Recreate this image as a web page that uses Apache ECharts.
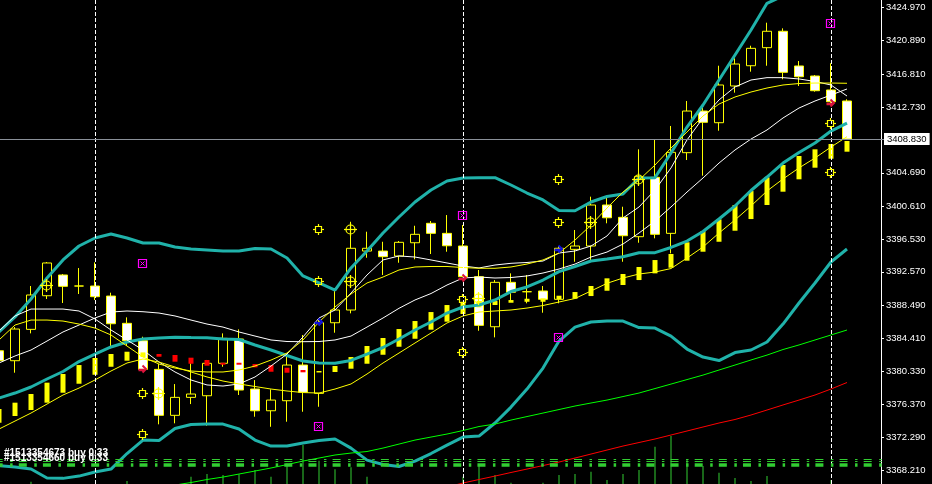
<!DOCTYPE html>
<html>
<head>
<meta charset="utf-8">
<title>XAUUSD chart</title>
<script src="https://cdn.jsdelivr.net/npm/echarts@6.0.0/dist/echarts.min.js"></script>
<style>
  html, body { margin: 0; padding: 0; background: #000; }
  #main { width: 932px; height: 484px; }
</style>
</head>
<body>
<div id="main"></div>
<script>
// candles (index 0 is the half hidden bar at the left edge)
var open = [3382.90, 3381.68, 3385.52, 3389.64, 3392.18, 3390.83, 3390.83, 3389.60, 3386.26, 3384.13,
  3380.62, 3374.99, 3377.19, 3377.39, 3381.36, 3384.34, 3378.21, 3375.55, 3376.78, 3381.15,
  3377.68, 3386.33, 3387.89, 3395.11, 3395.11, 3394.50, 3396.13, 3398.51, 3397.28, 3395.73,
  3391.97, 3385.84, 3391.28, 3390.13, 3390.22, 3389.20, 3395.32, 3395.73, 3400.75, 3399.24,
  3396.87, 3404.14, 3397.28, 3407.16, 3412.26, 3410.83, 3415.33, 3417.81, 3420.02, 3422.03,
  3417.78, 3416.55, 3414.84, 3413.49];
var close = [3381.68, 3385.56, 3389.73, 3393.65, 3390.79, 3390.83, 3389.52, 3386.21, 3384.13, 3380.62,
  3374.99, 3377.19, 3377.60, 3381.36, 3384.42, 3378.09, 3375.55, 3376.86, 3381.15, 3377.81,
  3386.33, 3387.89, 3395.45, 3395.45, 3394.42, 3396.18, 3397.16, 3397.28, 3395.76, 3391.97,
  3386.01, 3391.28, 3390.06, 3390.13, 3389.20, 3395.45, 3395.73, 3400.75, 3399.19, 3396.99,
  3404.22, 3397.16, 3407.20, 3412.26, 3410.88, 3415.45, 3418.02, 3419.94, 3422.03, 3417.00,
  3416.46, 3414.75, 3413.40, 3408.83];
var low = [3381.40, 3380.21, 3385.03, 3389.24, 3388.75, 3389.85, 3389.11, 3383.20, 3383.48, 3380.54,
  3373.89, 3374.01, 3376.37, 3373.72, 3380.94, 3377.48, 3374.82, 3373.59, 3374.21, 3375.43,
  3376.04, 3385.11, 3387.48, 3394.29, 3392.18, 3393.68, 3394.10, 3394.75, 3395.03, 3391.93,
  3385.35, 3384.54, 3388.99, 3388.71, 3387.56, 3388.71, 3393.80, 3394.01, 3398.51, 3393.80,
  3396.13, 3396.67, 3394.83, 3406.26, 3404.34, 3409.85, 3414.51, 3417.08, 3417.81, 3416.15,
  3415.33, 3414.63, 3413.24, 3408.83];
var high = [3383.36, 3385.81, 3390.83, 3393.77, 3392.30, 3393.03, 3393.73, 3390.01, 3386.99, 3384.62,
  3381.27, 3378.82, 3381.36, 3381.77, 3385.03, 3385.52, 3379.31, 3378.17, 3382.58, 3384.83,
  3386.66, 3390.34, 3398.70, 3397.48, 3396.25, 3396.34, 3398.21, 3398.79, 3399.52, 3398.30,
  3392.79, 3391.56, 3392.38, 3392.18, 3390.83, 3395.73, 3397.69, 3401.77, 3401.77, 3400.54,
  3407.57, 3408.80, 3410.43, 3413.49, 3413.08, 3417.81, 3418.72, 3420.26, 3423.08, 3422.39,
  3418.39, 3416.67, 3418.11, 3413.70];

// yellow / red block indicator (open -> close)
var histOpen = [3374.09, 3374.91, 3375.64, 3376.54, 3377.76, 3378.86, 3379.96, 3380.94, 3381.68, 3382.13,
  3382.50, 3382.38, 3382.05, 3381.77, 3381.43, 3381.43, 3381.27, 3381.15, 3380.82, 3380.54,
  3380.24, 3380.30, 3380.70, 3381.31, 3382.41, 3383.39, 3384.37, 3385.48, 3386.46, 3387.40,
  3388.22, 3388.50, 3388.78, 3388.90, 3388.90, 3389.24, 3389.27, 3389.60, 3390.25, 3390.95,
  3391.56, 3392.38, 3393.07, 3393.93, 3395.03, 3396.25, 3397.60, 3399.03, 3400.75, 3402.38,
  3403.90, 3405.32, 3406.42, 3407.28];
var histClose = [3375.76, 3376.54, 3377.60, 3378.99, 3380.05, 3381.15, 3382.01, 3382.50, 3382.78, 3382.70,
  3382.17, 3381.56, 3381.31, 3381.07, 3381.19, 3381.19, 3380.87, 3380.33, 3380.21, 3380.26,
  3380.42, 3381.03, 3382.13, 3383.48, 3384.46, 3385.56, 3386.54, 3387.64, 3388.50, 3388.90,
  3388.99, 3388.99, 3389.11, 3389.27, 3389.32, 3389.64, 3390.09, 3390.83, 3391.77, 3392.30,
  3393.16, 3394.01, 3394.75, 3396.18, 3397.56, 3399.00, 3400.75, 3402.46, 3404.14, 3405.65,
  3406.75, 3407.57, 3408.22, 3408.59];

// bollinger bands
var bbUpper = [3385.20, 3387.04, 3389.24, 3391.81, 3394.02, 3395.73, 3396.71, 3397.20, 3396.71, 3396.10,
  3396.10, 3395.61, 3395.36, 3395.24, 3395.12, 3395.12, 3395.43, 3395.36, 3394.26, 3392.06,
  3391.20, 3390.34, 3393.04, 3395.12, 3397.32, 3399.28, 3401.12, 3402.59, 3403.69, 3404.06,
  3404.10, 3404.10, 3403.20, 3402.22, 3401.37, 3400.08, 3400.05, 3401.12, 3401.79, 3402.10,
  3404.06, 3404.10, 3407.12, 3410.30, 3413.00, 3416.06, 3419.12, 3422.19, 3425.46, 3426.35,
  3426.60, 3426.60, 3426.84, 3427.09];
var bbMiddle = [3377.11, 3377.72, 3378.46, 3379.44, 3380.36, 3381.58, 3382.50, 3383.36, 3383.97, 3384.34,
  3384.46, 3384.55, 3384.52, 3384.50, 3384.34, 3384.28, 3383.61, 3382.99, 3382.32, 3381.65,
  3381.40, 3381.36, 3381.71, 3382.50, 3383.30, 3384.34, 3385.44, 3386.42, 3387.52, 3388.26,
  3388.50, 3389.12, 3390.15, 3390.71, 3391.56, 3392.60, 3393.22, 3393.89, 3394.14, 3394.42,
  3394.91, 3394.91, 3395.55, 3396.34, 3397.50, 3399.04, 3400.63, 3402.53, 3404.18, 3405.89,
  3407.18, 3408.34, 3409.81, 3410.79];
var bbLower = [3368.84, 3368.66, 3368.41, 3367.31, 3367.27, 3367.55, 3368.04, 3368.41, 3370.31, 3371.96,
  3371.90, 3373.37, 3373.86, 3373.92, 3373.92, 3373.31, 3371.96, 3371.23, 3371.23, 3371.60,
  3371.90, 3372.09, 3370.98, 3369.51, 3368.96, 3368.72, 3369.39, 3370.31, 3371.35, 3372.33,
  3372.45, 3374.05, 3376.00, 3378.21, 3380.78, 3384.09, 3385.80, 3386.42, 3386.54, 3386.54,
  3385.74, 3385.68, 3384.70, 3383.11, 3382.13, 3381.70, 3382.68, 3382.99, 3383.97, 3386.17,
  3388.75, 3391.20, 3393.77, 3395.36];

// moving averages
var maWhiteFast = [3385.32, 3387.16, 3388.01, 3388.01, 3388.01, 3387.77, 3386.79, 3385.44, 3384.22, 3382.99,
  3381.52, 3380.30, 3379.32, 3378.71, 3378.58, 3378.83, 3379.69, 3381.03, 3382.50, 3384.59,
  3386.91, 3387.89, 3389.97, 3392.18, 3394.02, 3394.51, 3394.38, 3394.02, 3393.65, 3393.28,
  3393.04, 3393.40, 3393.61, 3393.71, 3393.89, 3394.87, 3395.12, 3395.73, 3396.96, 3399.16,
  3400.51, 3402.59, 3405.29, 3408.72, 3411.41, 3413.62, 3415.21, 3416.06, 3416.35, 3416.35,
  3416.19, 3415.88, 3415.45, 3414.10];
var maWhiteSlow = [3381.40, 3382.26, 3382.99, 3384.09, 3385.20, 3386.05, 3386.91, 3387.64, 3387.77, 3387.68,
  3387.52, 3387.16, 3386.66, 3386.17, 3385.80, 3385.20, 3384.70, 3384.22, 3384.03, 3384.01,
  3384.03, 3384.22, 3384.70, 3385.80, 3386.91, 3388.10, 3389.12, 3389.91, 3390.95, 3391.81,
  3391.93, 3391.81, 3391.87, 3392.06, 3392.42, 3392.91, 3393.52, 3394.38, 3394.99, 3395.97,
  3397.32, 3398.79, 3400.51, 3402.34, 3404.06, 3405.89, 3407.49, 3408.83, 3409.94, 3411.41,
  3412.63, 3413.49, 3414.22, 3414.96];
var maYellowFast = [3384.22, 3386.05, 3386.66, 3386.66, 3386.54, 3386.17, 3385.68, 3384.83, 3383.48, 3382.13,
  3381.27, 3380.78, 3380.42, 3380.30, 3380.30, 3380.54, 3381.03, 3381.76, 3382.62, 3384.22,
  3386.42, 3388.26, 3389.85, 3391.20, 3391.93, 3392.79, 3393.16, 3393.22, 3393.22, 3393.09,
  3393.00, 3393.00, 3393.16, 3393.52, 3394.02, 3394.87, 3396.46, 3398.30, 3400.38, 3402.34,
  3403.81, 3405.65, 3407.73, 3409.69, 3411.65, 3413.12, 3413.98, 3414.59, 3415.08, 3415.45,
  3415.63, 3415.69, 3415.69, 3415.66];
var maYellowSlow = [3373.31, 3374.29, 3375.27, 3376.37, 3377.48, 3378.33, 3379.32, 3380.42, 3381.40, 3381.89,
  3381.52, 3380.91, 3380.30, 3379.69, 3379.19, 3378.83, 3378.52, 3378.21, 3377.97, 3377.78,
  3377.72, 3378.21, 3378.83, 3380.05, 3381.40, 3382.62, 3383.85, 3385.07, 3386.30, 3387.16,
  3387.64, 3387.77, 3387.89, 3388.13, 3388.44, 3388.87, 3389.30, 3390.22, 3391.16, 3391.81,
  3392.30, 3392.54, 3392.97, 3394.26, 3395.61, 3397.32, 3398.92, 3400.63, 3402.47, 3403.94,
  3405.29, 3406.51, 3407.85, 3409.12];
// long MAs only enter the window part way
var maGreenStart = 11;
var maGreen = [3366.45, 3366.76, 3367.13, 3367.43, 3367.80, 3368.17, 3368.54, 3368.96, 3369.39, 3369.76,
  3370.13, 3370.37, 3370.56, 3370.98, 3371.47, 3371.96, 3372.33, 3372.70, 3373.13, 3373.62,
  3373.92, 3374.41, 3374.84, 3375.27, 3375.70, 3376.13, 3376.50, 3376.86, 3377.29, 3377.72,
  3378.27, 3378.82, 3379.37, 3379.92, 3380.54, 3381.15, 3381.77, 3382.37, 3383.05, 3383.61,
  3384.22, 3384.83, 3385.44];
var maRedStart = 28;
var maRed = [3366.21, 3366.70, 3367.13, 3367.55, 3367.99, 3368.41, 3368.84, 3369.27, 3369.76, 3370.25,
  3370.74, 3371.23, 3371.66, 3372.09, 3372.58, 3373.07, 3373.56, 3374.05, 3374.48, 3375.03,
  3375.64, 3376.26, 3376.86, 3377.48, 3378.21, 3379.01];

// tick volume spikes (own hidden scale)
var tickVolume = [0, 0, 2.3, 0, 0, 0, 0, 0, 3, 0,
  0, 0, 7.3, 10, 9, 9.7, 14, 7.3, 20.7, 39,
  23.3, 14.7, 16.7, 7.3, 0, 0, 0, 0, 0, 7.3,
  18, 9, 1.3, 0, 1.3, 9, 10, 12.3, 4, 10,
  14, 37.3, 48, 24.7, 18, 11.3, 6, 3, 8, 0,
  0, 0, 4, 0];

// trade objects [bar index, price]
var closeMarks = [[9, 3393.61], [29, 3399.53], [35, 3384.62], [20, 3373.72], [52, 3423.08]];
var levelMarks = [[20, 3397.78], [20, 3391.44], [9, 3377.69], [9, 3372.70], [29, 3389.24],
  [29, 3382.75], [35, 3403.90], [35, 3398.63], [52, 3410.76], [52, 3404.76]];
var targetMarks = [[3, 3390.99], [10, 3377.76], [22, 3397.78], [22, 3391.44], [30, 3389.33],
  [37, 3398.63], [40, 3403.90]];
var buyArrows = [[20, 3386.54], [35, 3395.45]];
var sellArrows = [[9, 3380.75], [29, 3391.93], [52, 3413.41]];

var separatorBars = [6, 29, 52];
var orderLevels = [3369.58, 3369.33, 3368.91];
var lastPrice = 3408.83;
var priceTicks = [3368.21, 3372.29, 3376.37, 3380.33, 3384.41, 3388.49, 3392.57, 3396.53,
  3400.61, 3404.69, 3412.73, 3416.81, 3420.89, 3424.97];
var orderTexts = ['#1513354673 buy 0.33', '#1513354660 buy 0.33'];

var barCount = 56; // two empty slots of right shift
var categories = [];
for (var i = 0; i < barCount; i++) categories.push(String(i));

function padFrom(start, arr) {
  var out = [];
  for (var k = 0; k < start; k++) out.push('-');
  return out.concat(arr);
}

var candleData = open.map(function (o, i) { return [o, close[i], low[i], high[i]]; });
var histData = histOpen.map(function (o, i) {
  var c = histClose[i];
  return [o, c, Math.min(o, c), Math.max(o, c)];
});

function maLine(name, data, color, width) {
  return {
    name: name, type: 'line', data: data, symbol: 'none', z: 4,
    lineStyle: { color: color, width: width }
  };
}

function markerSeries(name, data, draw) {
  return {
    name: name, type: 'custom', data: data, z: 6,
    encode: { x: 0, y: 1 },
    renderItem: function (params, api) {
      var p = api.coord([api.value(0), api.value(1)]);
      return { type: 'group', x: Math.round(p[0]) - 0.5, y: Math.round(p[1]) + 0.5, children: draw() };
    }
  };
}

function seg(x1, y1, x2, y2, color, w) {
  return { type: 'line', shape: { x1: x1, y1: y1, x2: x2, y2: y2 }, style: { stroke: color, lineWidth: w } };
}

var chartDom = document.getElementById('main');
var myChart = echarts.init(chartDom);

var option = {
  backgroundColor: '#000000',
  animation: false,
  grid: { left: -9, right: 45, top: 0, bottom: 0, outerBoundsMode: 'none' },
  xAxis: { type: 'category', data: categories, boundaryGap: true, show: false },
  yAxis: [
    {
      type: 'value', position: 'right', offset: -6,
      min: 3366.58, max: 3425.86,
      splitLine: { show: false },
      axisLine: { show: true, lineStyle: { color: '#ffffff', width: 1 } },
      axisTick: { show: true, length: 3, customValues: priceTicks, lineStyle: { color: '#ffffff' } },
      axisLabel: {
        color: '#ffffff', fontSize: 9.5, fontFamily: 'Liberation Sans', margin: 5,
        customValues: priceTicks,
        formatter: function (v) { return v.toFixed(3); }
      }
    },
    { type: 'value', show: false, min: 0, max: 484 }
  ],
  graphic: [
    { type: 'text', left: 4, top: 448, z: 10, style: { text: orderTexts[0], fill: '#ffffff', font: 'bold 10px "Liberation Sans"' } },
    { type: 'text', left: 4, top: 453, z: 10, style: { text: orderTexts[1], fill: '#ffffff', font: 'bold 10px "Liberation Sans"' } }
  ],
  series: [
    {
      name: 'volume', type: 'bar', yAxisIndex: 1, data: tickVolume, barWidth: 1, z: 1,
      itemStyle: { color: '#32cd32' }
    },
    {
      name: 'price', type: 'candlestick', data: candleData, barWidth: 10, z: 2,
      itemStyle: {
        color: '#000000', color0: '#ffffff',
        borderColor: '#ffff00', borderColor0: '#ffff00', borderColorDoji: '#ffff00',
        borderWidth: 1
      },
      markLine: {
        silent: true, symbol: ['none', 'none'], animation: false,
        data: separatorBars.map(function (b) {
          return { xAxis: b, label: { show: false }, lineStyle: { color: '#ffffff', type: [4, 2], width: 1 } };
        }).concat([{
          yAxis: lastPrice,
          lineStyle: { color: '#8a9099', type: 'solid', width: 1 },
          label: {
            show: true, position: 'end', distance: -3,
            formatter: function (p) { return p.value.toFixed(3); },
            color: '#000000', backgroundColor: '#ffffff',
            fontSize: 9.5, fontFamily: 'Liberation Sans', padding: [1, 3, 1, 3]
          }
        }])
      }
    },
    {
      name: 'blocks', type: 'candlestick', data: histData, barWidth: 5, z: 3,
      itemStyle: {
        color: '#ffff00', color0: '#ff0000',
        borderColor: '#ffff00', borderColor0: '#ff0000', borderColorDoji: '#ffff00',
        borderWidth: 0
      }
    },
    maLine('bbUpper', bbUpper, '#20b2aa', 3),
    maLine('bbMiddle', bbMiddle, '#20b2aa', 3),
    maLine('bbLower', bbLower, '#20b2aa', 3),
    maLine('whiteFast', maWhiteFast, '#ffffff', 1),
    maLine('whiteSlow', maWhiteSlow, '#ffffff', 1),
    maLine('yellowFast', maYellowFast, '#ffff00', 1),
    maLine('yellowSlow', maYellowSlow, '#ffff00', 1),
    maLine('maRed', padFrom(maRedStart, maRed), '#ff0000', 1),
    (function () {
      var s = maLine('maGreen', padFrom(maGreenStart, maGreen), '#00ff00', 1);
      s.markLine = {
        silent: true, symbol: ['none', 'none'], animation: false,
        label: { show: false },
        data: orderLevels.map(function (v, k) {
          return { yAxis: v, lineStyle: { color: '#32cd32', width: k === 2 ? 3.5 : 1, type: [8, 7.5, 2.5, 6.14], dashOffset: 20.5 } };
        })
      };
      return s;
    })(),
    markerSeries('closeMarks', closeMarks, function () {
      var c = '#ff00ff';
      return [
        { type: 'rect', shape: { x: -4, y: -4, width: 8, height: 8 }, style: { fill: 'none', stroke: c, lineWidth: 1.2 } },
        seg(-2, -2, 2, 2, c, 1), seg(-2, 2, 2, -2, c, 1)
      ];
    }),
    markerSeries('levelMarks', levelMarks, function () {
      var c = '#ffff00';
      return [
        { type: 'rect', shape: { x: -3, y: -3, width: 6, height: 6 }, style: { fill: 'none', stroke: c, lineWidth: 1.2 } },
        seg(0, -5.5, 0, -3, c, 1.2), seg(0, 3, 0, 5.5, c, 1.2),
        seg(-5.5, 0, -3, 0, c, 1.2), seg(3, 0, 5.5, 0, c, 1.2)
      ];
    }),
    markerSeries('targetMarks', targetMarks, function () {
      var c = '#ffff00';
      return [
        { type: 'circle', shape: { cx: 0, cy: 0, r: 4.5 }, style: { fill: 'none', stroke: c, lineWidth: 1.2 } },
        seg(-6.5, 0, 6.5, 0, c, 1.2), seg(0, -6.5, 0, 6.5, c, 1.2)
      ];
    }),
    markerSeries('buyArrows', buyArrows, function () {
      var c = '#1010e0';
      return [
        seg(-4, 1.5, 2, 1.5, c, 2.5),
        { type: 'polyline', shape: { points: [[0, -3], [3.5, 0.5], [0, 4]] }, style: { fill: 'none', stroke: c, lineWidth: 2 } }
      ];
    }),
    markerSeries('sellArrows', sellArrows, function () {
      var c = '#dc143c';
      return [
        seg(-4, 1.5, 2, 1.5, c, 2.5),
        { type: 'polyline', shape: { points: [[0, -3], [3.5, 0.5], [0, 4]] }, style: { fill: 'none', stroke: c, lineWidth: 2 } }
      ];
    })
  ]
};

myChart.setOption(option);
</script>
</body>
</html>
